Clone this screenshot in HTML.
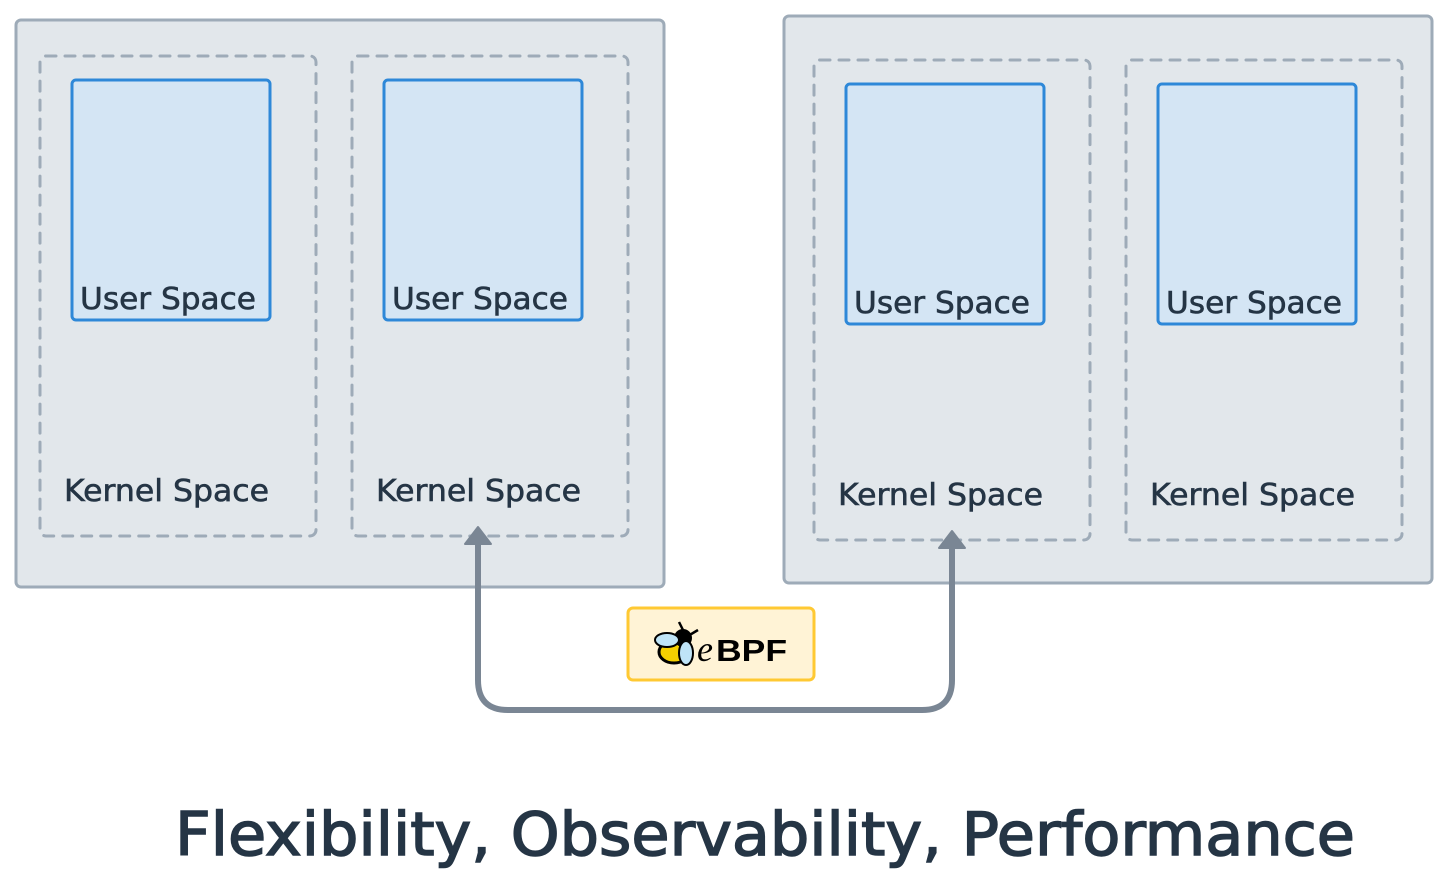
<!DOCTYPE html>
<html><head><meta charset="utf-8"><style>
html,body{margin:0;padding:0;background:#fff;}
svg{display:block}
text{font-family:"DejaVu Sans","Liberation Sans",sans-serif;fill:#253545}
</style></head><body>
<svg width="1448" height="894" viewBox="0 0 1448 894" xmlns="http://www.w3.org/2000/svg">
<g stroke="#9eabb8" stroke-width="3" fill="#e2e7eb">
<rect x="16" y="20" width="648" height="567" rx="5"/>
<rect x="784" y="16" width="648" height="567" rx="5"/>
</g>
<g stroke="#9eabb8" stroke-width="3" fill="none" stroke-dasharray="10 9" stroke-linecap="round">
<rect x="40" y="56" width="276" height="480" rx="6"/>
<rect x="352" y="56" width="276" height="480" rx="6"/>
<rect x="814" y="60" width="276" height="480" rx="6"/>
<rect x="1126" y="60" width="276" height="480" rx="6"/>
</g>
<g stroke="#2e88d8" stroke-width="3" fill="#d4e5f4">
<rect x="72" y="80" width="198" height="240" rx="4"/>
<rect x="384" y="80" width="198" height="240" rx="4"/>
<rect x="846" y="84" width="198" height="240" rx="4"/>
<rect x="1158" y="84" width="198" height="240" rx="4"/>
</g>
<g font-size="30" stroke="#253545" stroke-width="0.6">
<text x="80" y="309" textLength="176" lengthAdjust="spacingAndGlyphs">User Space</text>
<text x="392" y="309" textLength="176" lengthAdjust="spacingAndGlyphs">User Space</text>
<text x="854" y="313" textLength="176" lengthAdjust="spacingAndGlyphs">User Space</text>
<text x="1166" y="313" textLength="176" lengthAdjust="spacingAndGlyphs">User Space</text>
<text x="64" y="501" textLength="205" lengthAdjust="spacingAndGlyphs">Kernel Space</text>
<text x="376" y="501" textLength="205" lengthAdjust="spacingAndGlyphs">Kernel Space</text>
<text x="838" y="505" textLength="205" lengthAdjust="spacingAndGlyphs">Kernel Space</text>
<text x="1150" y="505" textLength="205" lengthAdjust="spacingAndGlyphs">Kernel Space</text>
</g>
<path d="M478 545 V680 Q478 710 508 710 H922 Q952 710 952 680 V549" stroke="#7a8694" stroke-width="6" fill="none"/>
<path d="M465 544 L478 527 L491 544 Z" fill="#7a8694" stroke="#7a8694" stroke-width="2" stroke-linejoin="round"/>
<path d="M939 548 L952 531 L965 548 Z" fill="#7a8694" stroke="#7a8694" stroke-width="2" stroke-linejoin="round"/>
<rect x="628" y="608" width="186" height="72" rx="5" fill="#fff3d6" stroke="#ffc933" stroke-width="3"/>
<g>
<path d="M683 630 l-4 -8 M688 636 l10 -6" stroke="#000" stroke-width="2.5"/>
<ellipse cx="674" cy="652" rx="15" ry="11" fill="#f5d000" stroke="#000" stroke-width="3"/>
<circle cx="683" cy="638" r="9" fill="#000"/>
<ellipse cx="667" cy="640" rx="12" ry="7" fill="#bfe4f7" stroke="#000" stroke-width="2"/>
<ellipse cx="686" cy="653" rx="7" ry="12" fill="#bfe4f7" stroke="#000" stroke-width="2"/>
</g>
<text x="697" y="661" font-size="36" font-style="italic" style="font-family:'Liberation Serif',serif;fill:#000">e</text>
<text x="716" y="661" font-size="31" font-weight="bold" textLength="71" lengthAdjust="spacingAndGlyphs" style="font-family:'Liberation Sans',sans-serif;fill:#000">BPF</text>
<text x="175" y="855" font-size="60" stroke="#253545" stroke-width="1.5" textLength="1180" lengthAdjust="spacingAndGlyphs">Flexibility, Observability, Performance</text>
</svg>
</body></html>
